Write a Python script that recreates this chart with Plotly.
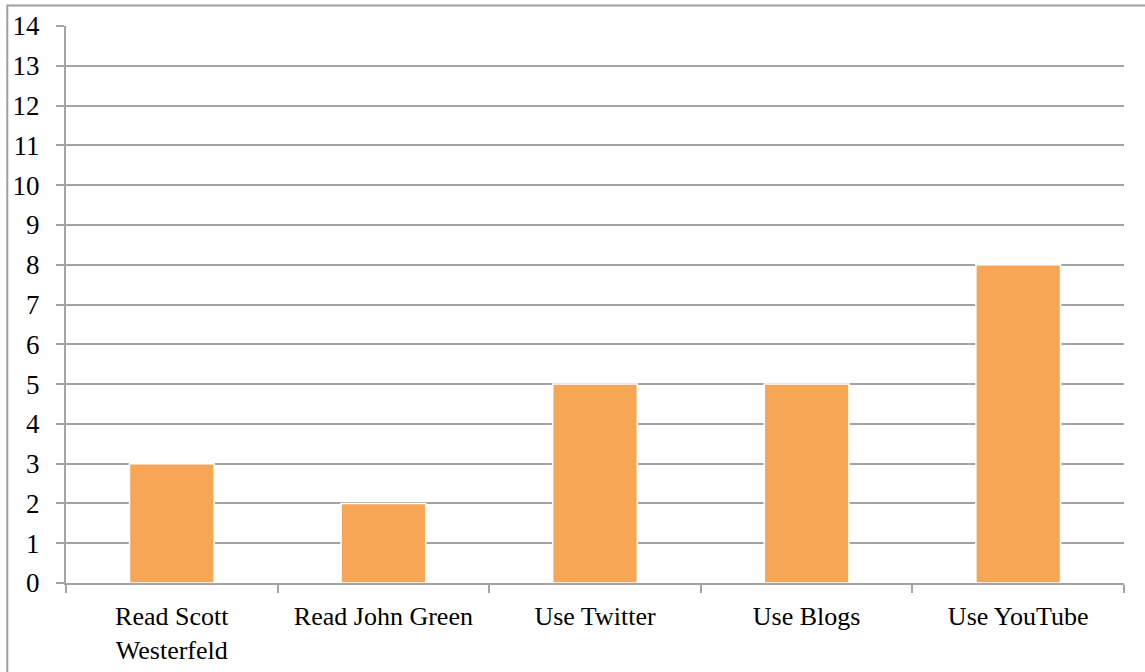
import plotly.graph_objects as go

categories = ["Read Scott<br>Westerfeld", "Read John Green", "Use Twitter", "Use Blogs", "Use YouTube"]
values = [3, 2, 5, 5, 8]
y_ticks = list(range(0, 15))

font_family = "Liberation Serif, Cambria, serif"
grid_color = "#A3A3A3"

fig = go.Figure(
    go.Bar(
        x=categories,
        y=values,
        width=0.4,
        marker=dict(color="#F7A656", line=dict(color="white", width=1.5)),
    )
)

fig.update_layout(
    width=1145,
    height=672,
    margin=dict(l=66, r=21, t=26, b=89),
    paper_bgcolor="white",
    plot_bgcolor="white",
    showlegend=False,
    font=dict(family=font_family, size=27, color="#000000"),
    bargap=0.6,
    shapes=[
        dict(
            type="rect", xref="paper", yref="paper",
            x0=-0.0555, x1=1.2, y0=-0.5, y1=1.0368,
            line=dict(color="#A0A0A0", width=2), fillcolor="rgba(0,0,0,0)",
            layer="below",
        )
    ],
)

fig.update_xaxes(
    automargin=False,
    showline=True, linecolor=grid_color, linewidth=2,
    ticks="outside", tickson="boundaries", ticklen=8, tickcolor=grid_color, tickwidth=2,
    showgrid=False, tickfont=dict(size=26), ticklabelstandoff=9,
)
fig.update_yaxes(
    automargin=False,
    range=[0, 14], tickvals=y_ticks, ticktext=[str(v) for v in y_ticks],
    showline=True, linecolor=grid_color, linewidth=2,
    ticks="outside", ticklen=8, tickcolor=grid_color, tickwidth=2,
    showgrid=True, gridcolor=grid_color, gridwidth=1.5,
    zeroline=False, tickfont=dict(size=27), ticklabelstandoff=11,
)

fig.write_html("out.html")
